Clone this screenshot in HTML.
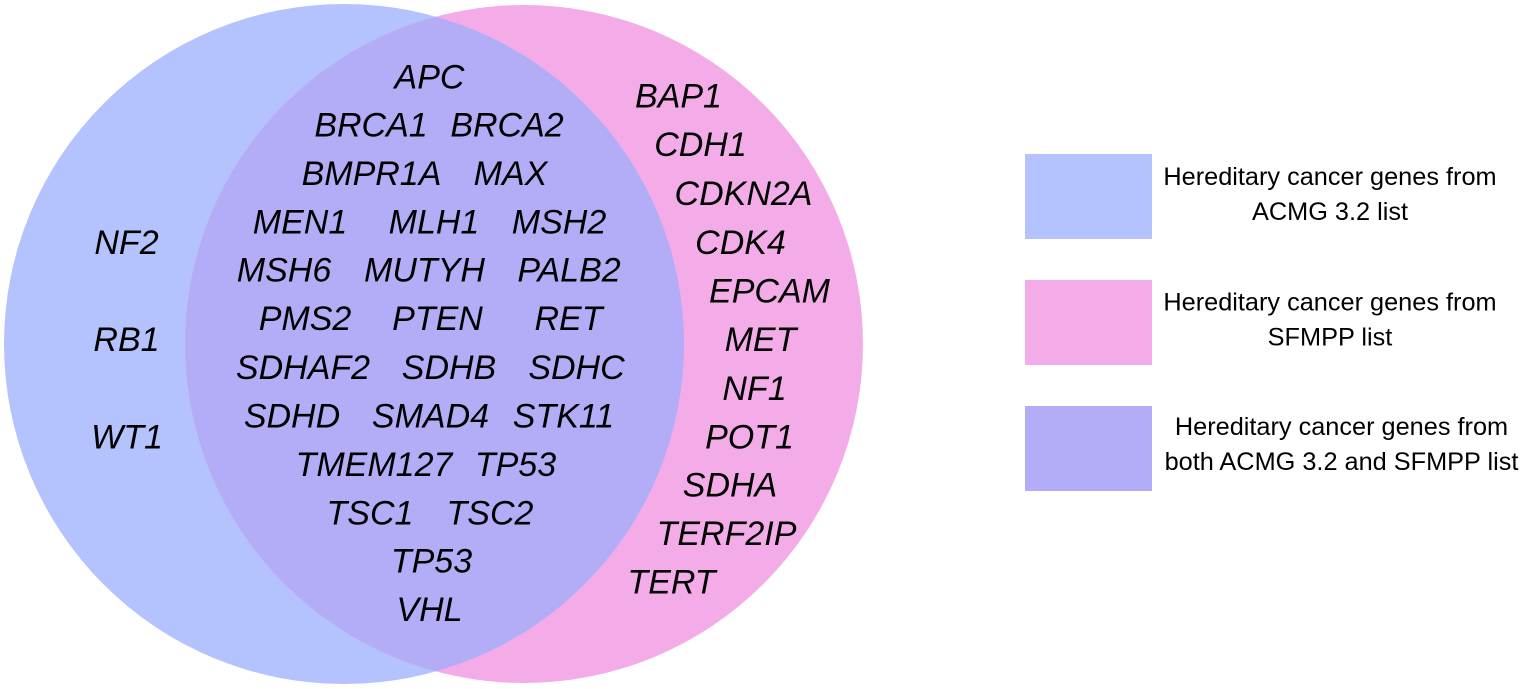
<!DOCTYPE html>
<html>
<head>
<meta charset="utf-8">
<style>
  html, body { margin: 0; padding: 0; background: #ffffff; }
  body { width: 1524px; height: 689px; overflow: hidden; }
  svg { display: block; }
  .g { font-family: "Liberation Sans", Arial, sans-serif; font-style: italic; font-size: 34px; fill: #000; text-anchor: middle; }
  .l { font-family: "Liberation Sans", Arial, sans-serif; font-size: 25.3px; fill: #000; text-anchor: middle; }
</style>
</head>
<body>
<svg width="1524" height="689" viewBox="0 0 1524 689" xmlns="http://www.w3.org/2000/svg">
  <defs>
    <clipPath id="clipL">
      <circle cx="344" cy="344" r="340"/>
    </clipPath>
  </defs>
  <rect x="0" y="0" width="1524" height="689" fill="#ffffff"/>
  <circle cx="344" cy="344" r="340" fill="#b4c3fd"/>
  <circle cx="524" cy="344" r="339" fill="#f4ace8"/>
  <circle cx="524" cy="344" r="339" fill="#b3acf6" clip-path="url(#clipL)"/>

  <g transform="translate(-1.5,0)">
    <!-- center -->
    <text class="g" x="431" y="88.3">APC</text>
    <text class="g" x="372.5" y="136.7">BRCA1</text>
    <text class="g" x="508.5" y="136.7">BRCA2</text>
    <text class="g" x="373" y="185">BMPR1A</text>
    <text class="g" x="512" y="185">MAX</text>
    <text class="g" x="301.5" y="233.3">MEN1</text>
    <text class="g" x="435.5" y="233.3">MLH1</text>
    <text class="g" x="560.5" y="233.3">MSH2</text>
    <text class="g" x="285.5" y="281.7">MSH6</text>
    <text class="g" x="426" y="281.7">MUTYH</text>
    <text class="g" x="570.5" y="281.7">PALB2</text>
    <text class="g" x="306.5" y="329.8">PMS2</text>
    <text class="g" x="439" y="329.8">PTEN</text>
    <text class="g" x="570" y="329.8">RET</text>
    <text class="g" x="304.5" y="379">SDHAF2</text>
    <text class="g" x="450.5" y="379">SDHB</text>
    <text class="g" x="578" y="379">SDHC</text>
    <text class="g" x="293.5" y="427.3">SDHD</text>
    <text class="g" x="432" y="427.3">SMAD4</text>
    <text class="g" x="565" y="427.3">STK11</text>
    <text class="g" x="375.5" y="476">TMEM127</text>
    <text class="g" x="517" y="476">TP53</text>
    <text class="g" x="371.5" y="524.3">TSC1</text>
    <text class="g" x="491.5" y="524.3">TSC2</text>
    <text class="g" x="433" y="572.7">TP53</text>
    <text class="g" x="431" y="621">VHL</text>

    <!-- left -->
    <text class="g" x="128" y="254">NF2</text>
    <text class="g" x="128" y="351">RB1</text>
    <text class="g" x="128.5" y="448.3">WT1</text>

    <!-- right -->
    <text class="g" x="680" y="107.3">BAP1</text>
    <text class="g" x="702" y="156">CDH1</text>
    <text class="g" x="745" y="205">CDKN2A</text>
    <text class="g" x="742" y="254">CDK4</text>
    <text class="g" x="771" y="302.7">EPCAM</text>
    <text class="g" x="762" y="351">MET</text>
    <text class="g" x="756" y="400">NF1</text>
    <text class="g" x="751" y="448.3">POT1</text>
    <text class="g" x="731.5" y="496.7">SDHA</text>
    <text class="g" x="728" y="545">TERF2IP</text>
    <text class="g" x="673" y="593.3">TERT</text>
  </g>

  <!-- legend -->
  <rect x="1025" y="154" width="127" height="85" fill="#b4c3fd"/>
  <rect x="1025" y="280" width="127" height="85" fill="#f4ace8"/>
  <rect x="1025" y="406" width="127" height="85" fill="#b3acf6"/>

  <text class="l" x="1330" y="185">Hereditary cancer genes from</text>
  <text class="l" x="1330" y="220">ACMG 3.2 list</text>
  <text class="l" x="1330" y="310.5">Hereditary cancer genes from</text>
  <text class="l" x="1330" y="345.5">SFMPP list</text>
  <text class="l" x="1341.5" y="435">Hereditary cancer genes from</text>
  <text class="l" x="1341.5" y="470">both ACMG 3.2 and SFMPP list</text>
</svg>
</body>
</html>
